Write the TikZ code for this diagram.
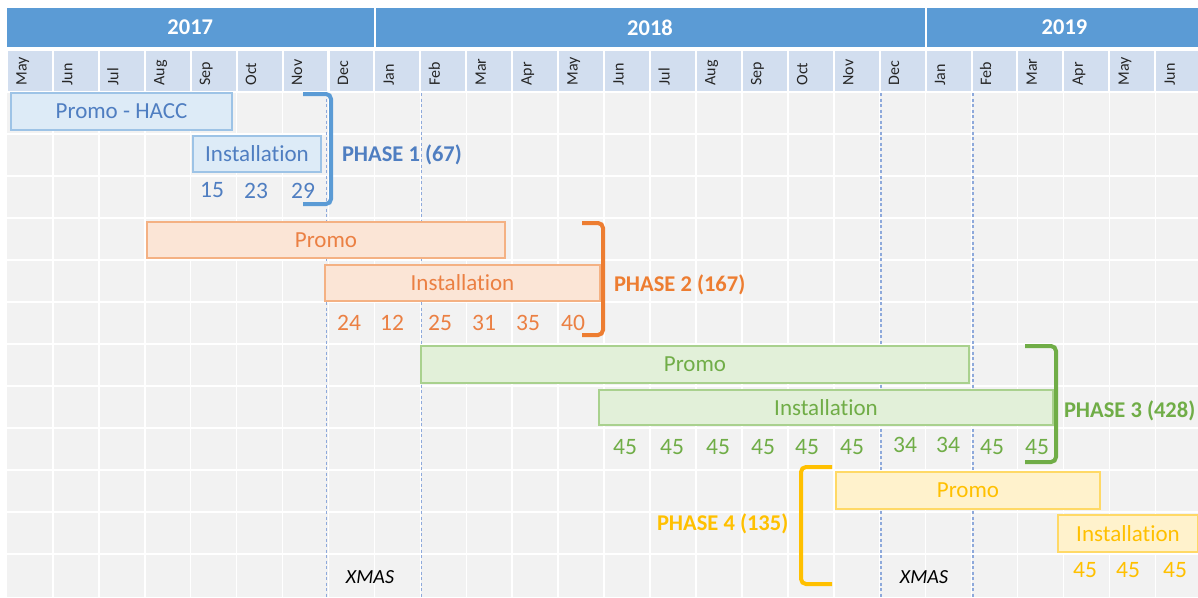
\documentclass[tikz,border=0pt]{standalone}
\usepackage{fontspec}
\setmainfont{Carlito}[Ligatures=NoCommon]
\definecolor{yearblue}{HTML}{5B9BD5}
\definecolor{monthblue}{HTML}{D2DEEF}
\definecolor{monthtext}{HTML}{262626}
\definecolor{gridgray}{HTML}{F2F2F2}
\definecolor{dashblue}{HTML}{8EA9DB}
\definecolor{bAfill}{HTML}{DDEBF7}
\definecolor{bAline}{HTML}{9DC3E6}
\definecolor{bAtext}{HTML}{4F7EC1}
\definecolor{bAbrk}{HTML}{5B9BD5}
\definecolor{bBfill}{HTML}{FBE5D6}
\definecolor{bBline}{HTML}{F4B183}
\definecolor{bBtext}{HTML}{EB8043}
\definecolor{bBbrk}{HTML}{ED7D31}
\definecolor{bCfill}{HTML}{E2F0D9}
\definecolor{bCline}{HTML}{A9D18E}
\definecolor{bCtext}{HTML}{70AD47}
\definecolor{bDfill}{HTML}{FFF2CC}
\definecolor{bDline}{HTML}{FFD966}
\definecolor{bDtext}{HTML}{FFC000}
\begin{document}
\begin{tikzpicture}[x=1pt,y=-1pt,
  every node/.style={inner sep=0pt,outer sep=0pt},
  yearbox/.style={fill=yearblue,text=white,font=\fontsize{22.5}{26}\selectfont\bfseries,minimum height=39,anchor=north west},
  monthcell/.style={fill=monthblue,minimum width=43.9,minimum height=40,anchor=north west},
  monthlbl/.style={font=\fontsize{16}{18}\selectfont,text=monthtext,rotate=90,anchor=base west},
  gridline/.style={white,line width=1.5},
  xmasline/.style={dashblue,line width=1.2,dash pattern=on 3pt off 2.5pt},
  bar/.style={line width=1.3,anchor=north west,font=\fontsize{23}{27}\selectfont},
  barA/.style={bar,fill=bAfill,draw=bAline,text=bAtext},
  barB/.style={bar,fill=bBfill,draw=bBline,text=bBtext},
  barC/.style={bar,fill=bCfill,draw=bCline,text=bCtext},
  barD/.style={bar,fill=bDfill,draw=bDline,text=bDtext},
  num/.style={font=\fontsize{23.5}{27}\selectfont},
  phase/.style={font=\fontsize{22.5}{26}\selectfont\bfseries,anchor=west},
  brk/.style={line width=4,rounded corners=5},
  xmas/.style={font=\fontsize{20}{23}\selectfont\itshape,text=black}]
\useasboundingbox (0,0) rectangle (1198,597);
\clip (0,0) rectangle (1198,597);
\fill[white] (0,0) rectangle (1198,597);
% year header
\node[yearbox,minimum width=366.5] (y2017) at (7,8) {2017};
\node[yearbox,minimum width=549] (y2018) at (375.5,8) {2018};
\node[yearbox,minimum width=276] (y2019) at (926.5,8) {2019};
% months
\foreach \m [count=\k from 0] in {May,Jun,Jul,Aug,Sep,Oct,Nov,Dec,Jan,Feb,Mar,Apr,May,Jun,Jul,Aug,Sep,Oct,Nov,Dec,Jan,Feb,Mar,Apr,May,Jun} {
  \node[monthcell] (mc\k) at ({7+45.93*\k+1},51) {};
  \node[monthlbl] (ml\k) at ({7+45.93*\k+19.5},85.5) {\m};
}
% grid
\fill[gridgray] (7,92) rectangle (1203,597);
\foreach \k in {1,...,25} \draw[gridline] ({7+45.93*\k},92) -- ({7+45.93*\k},597);
\foreach \r in {0,...,11} \draw[gridline] (7,{92+42*\r}) -- (1203,{92+42*\r});
% dashed lines
\foreach \xx in {326.5,421.5,881,973} \draw[xmasline] (\xx,93) -- (\xx,597);
% phase 1
\node[barA,minimum width=221,minimum height=37] (p1promo) at (11,93) {Promo - HACC};
\node[barA,minimum width=128,minimum height=36] (p1inst) at (193,136) {Installation};
\node[num,text=bAtext] (p1n1) at (212,190.5) {15};
\node[num,text=bAtext] (p1n2) at (256,190.5) {23};
\node[num,text=bAtext] (p1n3) at (303,190.5) {29};
\draw[brk,bAbrk] (303,94) -- (331,94) -- (331,204) -- (303,204);
\node[phase,text=bAtext] (ph1) at (342,155) {PHASE 1 (67)};
% phase 2
\node[barB,minimum width=358,minimum height=36] (p2promo) at (147,222) {Promo};
\node[barB,minimum width=275,minimum height=36] (p2inst) at (325,265) {Installation};
\foreach \v/\xx [count=\i] in {24/349,12/392,25/440,31/484,35/528,40/573}
  \node[num,text=bBtext] (p2n\i) at (\xx,322.5) {\v};
\draw[brk,bBbrk] (582,223) -- (603,223) -- (603,335) -- (582,335);
\node[phase,text=bBbrk] (ph2) at (614,285) {PHASE 2 (167)};
% phase 3
\node[barC,minimum width=548,minimum height=37] (p3promo) at (421,346) {Promo};
\node[barC,minimum width=454,minimum height=35] (p3inst) at (599,390) {Installation};
\foreach \v/\xx/\yy [count=\i] in {45/625/447,45/672/447,45/718/447,45/763/447,45/807/447,45/852/447,34/905/445,34/948/445,45/992/447,45/1037/447}
  \node[num,text=bCtext] (p3n\i) at (\xx,\yy) {\v};
\draw[brk,bCtext] (1025,346) -- (1056,346) -- (1056,462) -- (1025,462);
\node[phase,text=bCtext] (ph3) at (1064,411) {PHASE 3 (428)};
% phase 4
\node[barD,minimum width=264,minimum height=37] (p4promo) at (836,472) {Promo};
\node[barD,minimum width=140,minimum height=37] (p4inst) at (1058,515) {Installation};
\foreach \xx [count=\i] in {1085,1128,1175}
  \node[num,text=bDtext] (p4n\i) at (\xx,570.5) {45};
\draw[brk,bDtext] (832,467) -- (801,467) -- (801,584) -- (832,584);
\node[phase,text=bDtext] (ph4) at (657,524) {PHASE 4 (135)};
% xmas
\node[xmas] (xm1) at (370,577) {XMAS};
\node[xmas] (xm2) at (924,577) {XMAS};
\end{tikzpicture}
\end{document}
